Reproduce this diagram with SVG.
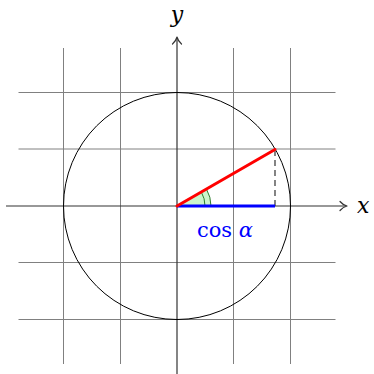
<svg xmlns="http://www.w3.org/2000/svg" width="374" height="374" viewBox="0 0 374 374">
<style>
.grid{stroke:#808080;stroke-width:1;fill:none}
.axis{stroke:#333;stroke-width:1.2;fill:none}
.tip{stroke:#333;stroke-width:1.2;fill:none;stroke-linecap:round;stroke-linejoin:round}
.lbl{font-family:"DejaVu Serif",serif;font-style:italic;font-size:22px;fill:#000}
.cos{font-family:"DejaVu Serif",serif;font-size:21px;fill:#0000ff}
</style>
<rect width="374" height="374" fill="#fff"/>
<g id="grid">
<path class="grid" d="M18.5 92.5H335.5M18.5 149H335.5M18.5 262.5H335.5M18.5 319.5H335.5M63.5 48V364M120.5 48V364M233.5 48V364M290.5 48V364"/>
</g>
<g id="connectors">
<path class="axis" d="M6 206H346"/>
<path class="tip" d="M340 201.5Q343 205 347 206Q343 207 340 210.5"/>
<path class="axis" d="M177 374V38"/>
<path class="tip" d="M172.5 44Q176 41 177 37Q178 41 181.5 44"/>
</g>
<g id="circle">
<circle cx="177" cy="206" r="113.5" fill="none" stroke="#000" stroke-width="1"/>
</g>
<g id="angle">
<path d="M177 206H211L211 206A34 34 0 0 0 206.4 189Z" fill="#ccf5cc" stroke="#2e7d2e" stroke-width="1"/>
<path d="M205 206A28 28 0 0 0 201.3 192" fill="none" stroke="#2e7d2e" stroke-width="1"/>
</g>
<g id="sine">
<path d="M275 150V206" stroke="#333" stroke-width="1.2" stroke-dasharray="6 4" fill="none"/>
</g>
<g id="cosine">
<path d="M177 206H275" stroke="#0000ff" stroke-width="3"/>
</g>
<g id="radius">
<path d="M177 206L275 149.5" stroke="#ff0000" stroke-width="3" stroke-linecap="round"/>
</g>
<g id="labels">
<text class="lbl" x="177" y="22" text-anchor="middle">y</text>
<text class="lbl" x="357" y="213">x</text>
<text class="cos" x="225" y="237" text-anchor="middle">cos <tspan font-style="italic">α</tspan></text>
</g>
</svg>
